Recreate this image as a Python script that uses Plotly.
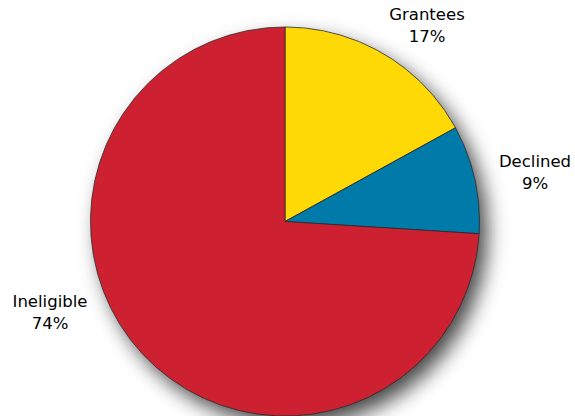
import math
import plotly.graph_objects as go
from statistics import NormalDist

# Data
categories = ["Grantees", "Declined", "Ineligible"]
shares = [17, 9, 74]
colors = ["#FFD906", "#007AA8", "#CD2132"]

W, H = 575, 416

# Pie geometry in pixel units (axes span the whole figure, y pointing down)
R = 194.5
CX, CY = 285, H - R

fig = go.Figure()

# Soft drop shadow: stacked translucent discs approximating a blurred,
# offset copy of the pie
SX, SY = CX + 8, CY + 10
MAXD, SIGMA = 0.72, 10.0
nd = NormalDist()
radii = [R + 30 - 1.5 * i for i in range(41)]  # largest first
circle = [2 * math.pi * k / 180 for k in range(181)]
prev_keep = 1.0
for r in radii:
    target = MAXD * (1 - nd.cdf((r - R) / SIGMA))
    keep = 1 - target
    a = 1 - keep / prev_keep
    prev_keep = keep
    fig.add_trace(go.Scatter(
        x=[SX + r * math.cos(t) for t in circle],
        y=[SY + r * math.sin(t) for t in circle],
        mode="lines", fill="toself",
        fillcolor=f"rgba(0,0,0,{a:.4f})", line=dict(width=0),
        hoverinfo="skip", showlegend=False,
    ))

# Pie slices: clockwise from 12 o'clock, sized by share
total = sum(shares)
start = 0.0
for name, val, col in zip(categories, shares, colors):
    sweep = 360.0 * val / total
    steps = max(2, int(sweep * 2))
    thetas = [math.radians(start + sweep * k / steps) for k in range(steps + 1)]
    xs = [CX] + [CX + R * math.sin(t) for t in thetas] + [CX]
    ys = [CY] + [CY - R * math.cos(t) for t in thetas] + [CY]
    fig.add_trace(go.Scatter(
        x=xs, y=ys, mode="lines", fill="toself",
        fillcolor=col, line=dict(color="#2a2a2a", width=0.8),
        hoverinfo="skip", showlegend=False,
    ))
    start += sweep

# Labels: name on one line, share on the next
label_pos = {
    "Grantees": (427, 27),
    "Declined": (535, 174),
    "Ineligible": (50, 314),
}
fig.add_trace(go.Scatter(
    x=[label_pos[n][0] for n in categories],
    y=[label_pos[n][1] for n in categories],
    text=[f"{n}<br>{v}%" for n, v in zip(categories, shares)],
    mode="text", textposition="middle center",
    textfont=dict(family="DejaVu Sans", size=16.5, color="#000000"),
    hoverinfo="skip", showlegend=False, cliponaxis=False,
))

fig.update_layout(
    width=W, height=H,
    margin=dict(l=0, r=0, t=0, b=0),
    paper_bgcolor="white",
    plot_bgcolor="white",
    showlegend=False,
    xaxis=dict(range=[0, W], visible=False, fixedrange=True),
    yaxis=dict(range=[H, 0], visible=False, fixedrange=True),
)

fig.write_html("out.html")
